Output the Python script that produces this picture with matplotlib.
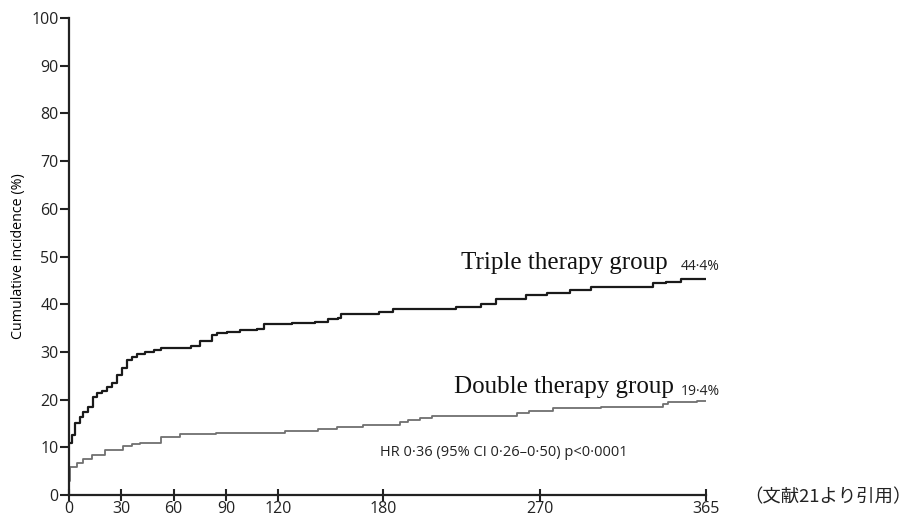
import matplotlib
matplotlib.use("Agg")
import matplotlib.pyplot as plt

# === data ===
triple_days = [0, 1.5, 3.4, 6.3, 8, 11, 13.8, 15.9, 18.7, 21.6, 24.5, 27.3, 30.2, 33, 36, 38.8,
               43.6, 49, 53, 70, 75, 82, 85, 90.5, 98, 108, 112, 128, 141, 148.5, 154, 156, 178,
               186, 222, 236, 245, 262, 274, 287, 299, 335, 342, 351, 365]
triple_vals = [10.8, 12.6, 15.1, 16.4, 17.5, 18.5, 20.6, 21.3, 21.7, 22.7, 23.5, 25.2, 26.6, 28.3,
               29.0, 29.6, 29.9, 30.4, 30.9, 31.2, 32.3, 33.5, 34.0, 34.2, 34.6, 34.9, 35.8, 36.0,
               36.3, 36.8, 37.2, 37.9, 38.3, 39.0, 39.5, 40.1, 41.0, 41.9, 42.4, 43.0, 43.7, 44.4,
               44.7, 45.2, 45.2]

double_days = [0, 0.3, 4.4, 8, 13, 20.6, 31, 36, 40.7, 53, 63.6, 84, 124, 143, 153.5, 168.6, 190,
               194.5, 201, 208, 256.7, 264, 277.5, 305, 340.6, 343.5, 360, 365]
double_vals = [3.0, 5.9, 6.8, 7.5, 8.4, 9.4, 10.3, 10.7, 11.0, 12.1, 12.7, 13.1, 13.5, 13.9, 14.3,
               14.7, 15.2, 15.7, 16.1, 16.6, 17.1, 17.7, 18.2, 18.5, 19.1, 19.4, 19.7, 19.7]

x_ticks = [0, 30, 60, 90, 120, 180, 270, 365]
y_ticks = list(range(0, 101, 10))

sans = "Open Sans"
serif = "Liberation Serif"

fig = plt.figure(figsize=(9.15, 5.16), dpi=100)
ax = fig.add_axes([0.0754, 0.0407, 0.6958, 0.9244])

ax.step(triple_days, triple_vals, where="post", color="#1a1a1a", lw=1.6)
ax.step(double_days, double_vals, where="post", color="#707070", lw=1.3)

ax.set_xlim(0, 365)
ax.set_ylim(0, 100)
ax.set_xticks(x_ticks)
ax.set_yticks(y_ticks)
ax.set_xticklabels([str(t) for t in x_ticks], fontfamily=sans, fontsize=11.5)
ax.set_yticklabels([str(t) for t in y_ticks], fontfamily=sans, fontsize=11.5)
ax.tick_params(axis="y", direction="out", length=6.5, width=1.5, pad=1, colors="#222222")
ax.tick_params(axis="x", direction="inout", length=9, width=1.5, pad=0, colors="#222222")

for s in ["top", "right"]:
    ax.spines[s].set_visible(False)
for s in ["left", "bottom"]:
    ax.spines[s].set_linewidth(1.6)
    ax.spines[s].set_color("#222222")

ax.set_ylabel("Cumulative incidence (%)", fontfamily=sans, fontsize=10.3, labelpad=4)

ax.text(284, 48.6, "Triple therapy group", fontfamily=serif, fontsize=18,
        ha="center", va="center", color="#111111")
ax.text(351, 47.8, "44·4%", fontfamily=sans, fontsize=10, ha="left", va="center", color="#222222",
        clip_on=False)
ax.text(284, 22.6, "Double therapy group", fontfamily=serif, fontsize=18,
        ha="center", va="center", color="#111111")
ax.text(351, 21.8, "19·4%", fontfamily=sans, fontsize=10, ha="left", va="center", color="#222222",
        clip_on=False)
ax.text(178.3, 9.0, "HR 0·36 (95% CI 0·26–0·50) p<0·0001", fontfamily=sans, fontsize=10.5,
        ha="left", va="center", color="#222222")

fig.text(0.996, 0.037, "（文献21より引用）", fontfamily=["Noto Sans CJK JP", "DejaVu Sans"],
         fontsize=13.2, ha="right", va="center", color="#222222")

fig.savefig("out.png", dpi=100)
